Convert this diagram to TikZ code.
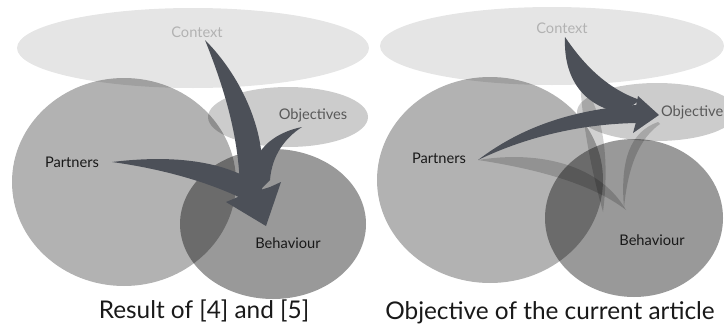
\documentclass[tikz,border=0pt]{standalone}
\usepackage{fontspec}
\setmainfont{Lato}
\definecolor{arrowgrey}{RGB}{76,80,88}

\begin{document}
\begin{tikzpicture}[x=0.03cm, y=-0.03cm,
	blob/.style={fill=black, fill opacity=#1},
	swoosh/.style={fill=arrowgrey},
	ghost/.style={fill=black, fill opacity=0.18},
	lbl/.style={font=\fontsize{12.5}{14}\selectfont, text=#1},
	lbl/.default=black,
	caption/.style={font=\fontsize{20.8}{24}\selectfont, text=black!90}]
	\useasboundingbox (0, 0) rectangle (724, 332);

	\fill[blob=0.1] (193, 48) ellipse [x radius=176, y radius=40];
	\fill[blob=0.3] (124, 182) ellipse [x radius=112, y radius=104];
	\fill[blob=0.2] (288, 117) ellipse [x radius=80, y radius=30];
	\fill[blob=0.4] (273, 224) ellipse [x radius=93, y radius=75];

	\fill[blob=0.1] (552, 46) ellipse [x radius=172, y radius=39];
	\fill[blob=0.3] (490, 180) ellipse [x radius=113, y radius=103];
	\fill[blob=0.2] (657, 112) ellipse [x radius=80, y radius=29];
	\fill[blob=0.4] (634, 218) ellipse [x radius=89, y radius=79];

	\coordinate (tailCL) at (205, 40);
	\coordinate (tailOL) at (302, 127);
	\coordinate (tailPL) at (112, 162);
	\coordinate (headL) at (266, 226);
	\coordinate (tailCR) at (565, 37);
	\coordinate (tailPR) at (478, 160);
	\coordinate (headR) at (659, 115);

	\fill[ghost] (tailPR) .. controls (540, 150) and (600, 165) .. (626, 210) .. controls (590, 182) and (530, 168) .. (tailPR) -- cycle;
	\fill[ghost] (580, 80) .. controls (596, 100) and (612, 140) .. (603, 212) .. controls (590, 165) and (582, 120) .. (580, 80) -- cycle;
	\fill[ghost] (658, 122) .. controls (630, 132) and (620, 160) .. (624, 208) .. controls (628, 165) and (640, 138) .. (660, 124) -- cycle;

	\fill[swoosh] (tailCL) .. controls (240, 75) and (262, 125) .. (262, 165) -- (262, 195) -- (240, 195) .. controls (240, 140) and (225, 90) .. (tailCL) -- cycle;
	\fill[swoosh] (tailOL) .. controls (282, 131) and (262, 142) .. (255, 162) -- (262, 188) -- (270, 180) .. controls (272, 155) and (285, 138) .. (tailOL) -- cycle;
	\fill[swoosh] (tailPL) .. controls (170, 155) and (220, 160) .. (255, 182) -- (245, 200) .. controls (215, 185) and (170, 170) .. (tailPL) -- cycle;
	\fill[swoosh] (226, 202) -- (238, 197) -- (270, 187) -- (281, 182) -- (headL) -- cycle;

	\fill[swoosh] (tailPR) .. controls (520, 128) and (570, 110) .. (636, 105) -- (636, 123) .. controls (585, 124) and (530, 135) .. (tailPR) -- cycle;
	\fill[swoosh] (tailCR) .. controls (582, 62) and (605, 88) .. (640, 100) -- (622, 113) .. controls (590, 108) and (563, 85) .. (tailCR) -- cycle;
	\fill[swoosh] (638, 96) -- (headR) -- (633, 133) -- (636, 122) -- (636, 106) -- cycle;

	\node[lbl=black!30] (ctxL) at (197, 32) {Context};
	\node[lbl=black!90] (partL) at (72, 162) {Partners};
	\node[lbl=black!65] (objL) at (313, 115) {Objectives};
	\node[lbl=black!90] (behL) at (288, 243) {Behaviour};
	\node[caption] (capL) at (204, 311) {Result of [4] and [5]};

	\node[lbl=black!30] (ctxR) at (562, 28) {Context};
	\node[lbl=black!90] (partR) at (439, 158) {Partners};
	\node[lbl=black!65, anchor=west] (objR) at (657, 112) {Objective};
	\node[lbl=black!90] (behR) at (652, 240) {Behaviour};
	\node[caption] (capR) at (550, 313) {Objective of the current article};
\end{tikzpicture}
\end{document}
